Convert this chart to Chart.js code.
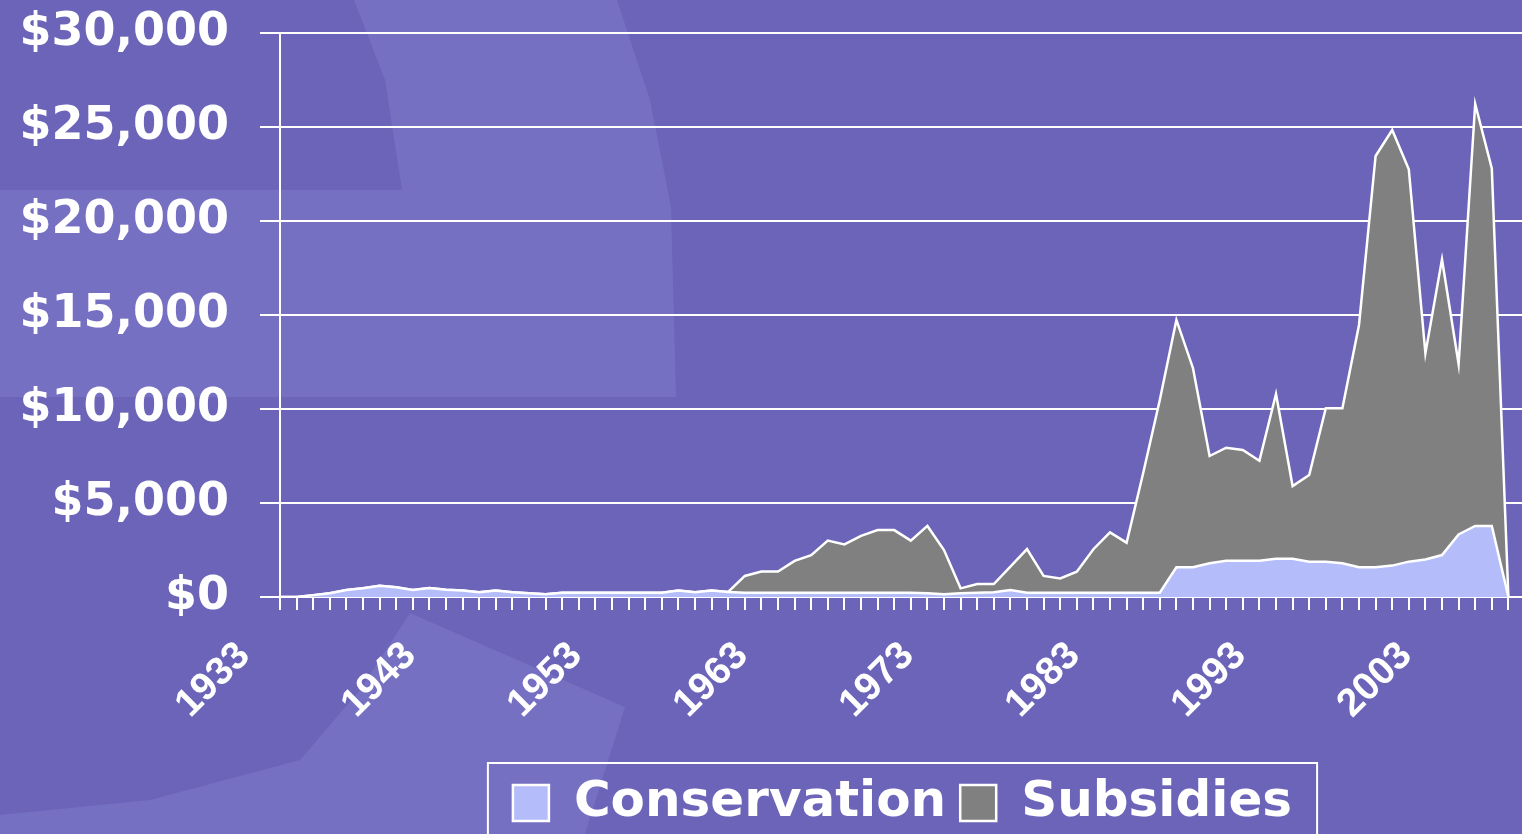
<!DOCTYPE html>
<html>
<head>
<meta charset="utf-8">
<script src="https://cdn.jsdelivr.net/npm/chart.js@4/dist/chart.umd.min.js"></script>
<style>
  html, body { margin: 0; padding: 0; overflow: hidden; background: #6b64b8; width: 1522px; height: 834px; }
  #bg { position: absolute; left: 0; top: 0; }
  #wrap { position: absolute; left: 0; top: 0; }
</style>
</head>
<body>
<svg id="bg" width="1522" height="834">
  <polygon points="0,190 402,190 385,80 354,0 617,0 650,100 671,207 676,397 0,397" fill="#7670c3"/>
  <polygon points="410,613 625,707 585,834 0,834 0,815 150,800 300,760 360,690" fill="#7670c3"/>
</svg>
<div id="wrap"><canvas id="farmChart" width="1525" height="838"></canvas></div>
<script>
// years on the category axis
const years = [
  1933, 1934, 1935, 1936, 1937, 1938, 1939, 1940, 1941, 1942,
  1943, 1944, 1945, 1946, 1947, 1948, 1949, 1950, 1951, 1952,
  1953, 1954, 1955, 1956, 1957, 1958, 1959, 1960, 1961, 1962,
  1963, 1964, 1965, 1966, 1967, 1968, 1969, 1970, 1971, 1972,
  1973, 1974, 1975, 1976, 1977, 1978, 1979, 1980, 1981, 1982,
  1983, 1984, 1985, 1986, 1987, 1988, 1989, 1990, 1991, 1992,
  1993, 1994, 1995, 1996, 1997, 1998, 1999, 2000, 2001, 2002,
  2003, 2004, 2005, 2006, 2007, 2008
];

// conservation payments ($ millions)
const conservation = [
  0, 0, 100, 200, 370, 460, 600, 520, 370, 480,
  390, 340, 250, 340, 250, 200, 140, 230, 230, 230,
  230, 230, 230, 230, 340, 250, 340, 270, 230, 230,
  230, 230, 230, 230, 230, 230, 230, 230, 230, 200,
  140, 200, 230, 250, 370, 230, 230, 230, 230, 230,
  230, 230, 230, 230, 1580, 1580, 1790, 1930, 1930, 1930,
  2040, 2040, 1880, 1880, 1790, 1580, 1580, 1670, 1880, 2000,
  2230, 3330, 3780, 3780, 0, null
];

// subsidy payments ($ millions), stacked on top of conservation
const subsidies = [
  0, 0, 0, 0, 0, 0, 0, 0, 0, 0,
  0, 0, 0, 0, 0, 0, 0, 0, 0, 0,
  0, 0, 0, 0, 0, 0, 0, 0, 890, 1120,
  1120, 1690, 2000, 2770, 2570, 3020, 3330, 3330, 2770, 3580,
  2360, 260, 460, 440, 1240, 2320, 890, 760, 1120, 2310,
  3210, 2660, 6370, 10250, 13160, 10590, 5710, 6010, 5890, 5320,
  8760, 3860, 4610, 8160, 8250, 12890, 21880, 23170, 20870, 10960,
  15730, 9060, 22450, 19020, 0, null
];

const yTicks = [0, 5000, 10000, 15000, 20000, 25000, 30000];
const labelEvery = 10;

const axisFont = "'Liberation Sans', Arial, sans-serif";
const wideFont = "'DejaVu Sans', Verdana, sans-serif";

// box drawn round the legend items
const legendFrame = {
  id: 'legendFrame',
  afterDraw(chart) {
    const lg = chart.legend;
    if (!lg || !lg.legendHitBoxes.length) return;
    const hb = lg.legendHitBoxes;
    const last = hb[hb.length - 1];
    const left = hb[0].left - 25;
    const right = last.left + last.width + 25;
    const top = hb[0].top + hb[0].height / 2 - 40;
    const ctx = chart.ctx;
    ctx.save();
    ctx.strokeStyle = '#ffffff';
    ctx.lineWidth = 2;
    ctx.strokeRect(left, top, right - left, chart.height - top + 20);
    ctx.restore();
  }
};

const ctx = document.getElementById('farmChart').getContext('2d');

new Chart(ctx, {
  type: 'line',
  plugins: [legendFrame],
  data: {
    labels: years,
    datasets: [{
      label: 'Conservation',
      data: conservation,
      backgroundColor: '#b4bcfa',
      borderColor: '#ffffff',
      borderWidth: 2.5,
      fill: 'origin',
      pointRadius: 0,
      tension: 0
    }, {
      label: 'Subsidies',
      data: subsidies,
      backgroundColor: '#808080',
      borderColor: '#ffffff',
      borderWidth: 2.5,
      fill: '-1',
      pointRadius: 0,
      tension: 0
    }]
  },
  options: {
    responsive: false,
    devicePixelRatio: 1,
    animation: false,
    layout: { padding: { top: 33, left: 0, right: 0, bottom: 0 } },
    scales: {
      x: {
        type: 'category',
        offset: false,
        afterFit: (scale) => {
          scale.height = 167;
          scale.paddingLeft = 0;
          scale.paddingRight = 0;
        },
        border: { color: '#ffffff', width: 2 },
        grid: {
          display: true,
          drawOnChartArea: false,
          drawTicks: true,
          tickLength: 13,
          color: '#ffffff',
          lineWidth: 2
        },
        ticks: {
          autoSkip: false,
          maxRotation: 45,
          minRotation: 45,
          padding: 23,
          labelOffset: -36,
          color: '#ffffff',
          font: { family: axisFont, size: 39, weight: 'bold' },
          callback: function (value, index) {
            const y = years[index];
            return (y - years[0]) % labelEvery === 0 ? String(y) : '';
          }
        }
      },
      y: {
        stacked: true,
        min: 0,
        max: 30000,
        afterFit: (scale) => {
          scale.width = 280;
          scale.paddingTop = 0;
          scale.paddingBottom = 0;
        },
        afterBuildTicks: (scale) => { scale.ticks = yTicks.map(v => ({ value: v })); },
        border: { color: '#ffffff', width: 2 },
        grid: {
          color: '#ffffff',
          lineWidth: 2,
          drawTicks: true,
          tickLength: 20
        },
        ticks: {
          padding: 31,
          color: '#ffffff',
          font: { family: wideFont, size: 46, weight: 'bold' },
          callback: (v) => '$' + Number(v).toLocaleString('en-US')
        }
      }
    },
    plugins: {
      tooltip: { enabled: false },
      legend: {
        position: 'bottom',
        fullSize: false,
        labels: {
          color: '#ffffff',
          boxWidth: 36,
          boxHeight: 36,
          padding: 14,
          font: { family: wideFont, size: 50, weight: 'bold' }
        }
      }
    }
  }
});
</script>
</body>
</html>
